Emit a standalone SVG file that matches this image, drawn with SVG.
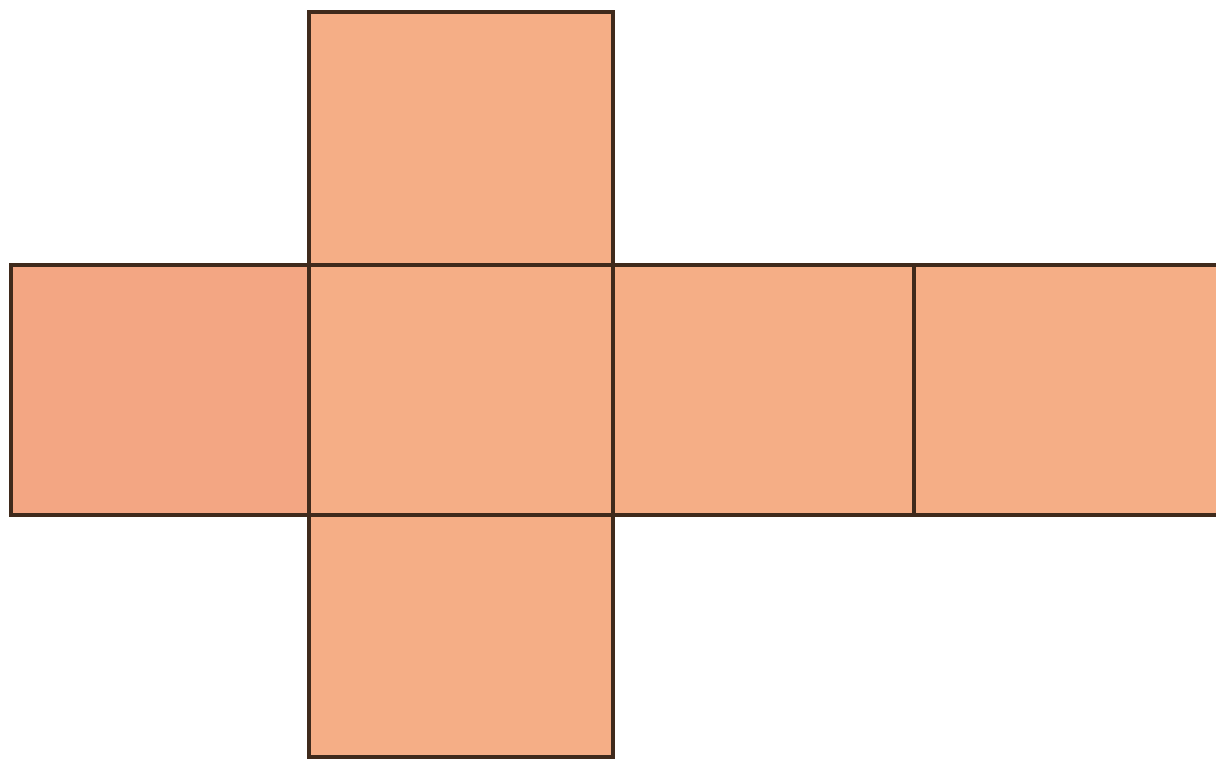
<svg xmlns="http://www.w3.org/2000/svg" width="1216" height="763" viewBox="0 0 1216 763">
  <style>
    .face { fill: #f5ae86; stroke: #3f2a1c; stroke-width: 4; stroke-linejoin: miter; }
    .pink { fill: #f3a683; }
  </style>
  <rect width="1216" height="763" fill="#ffffff"/>
  <g id="face-top"><rect class="face" x="309" y="12" width="304" height="253"/></g>
  <g id="face-left"><rect class="face pink" x="11" y="265" width="298" height="250"/></g>
  <g id="face-center"><rect class="face" x="309" y="265" width="304" height="250"/></g>
  <g id="face-right"><rect class="face" x="613" y="265" width="301" height="250"/></g>
  <g id="face-far-right"><rect class="face" x="914" y="265" width="310" height="250"/></g>
  <g id="face-bottom"><rect class="face" x="309" y="515" width="304" height="242"/></g>
  <g id="connectors"></g>
</svg>
